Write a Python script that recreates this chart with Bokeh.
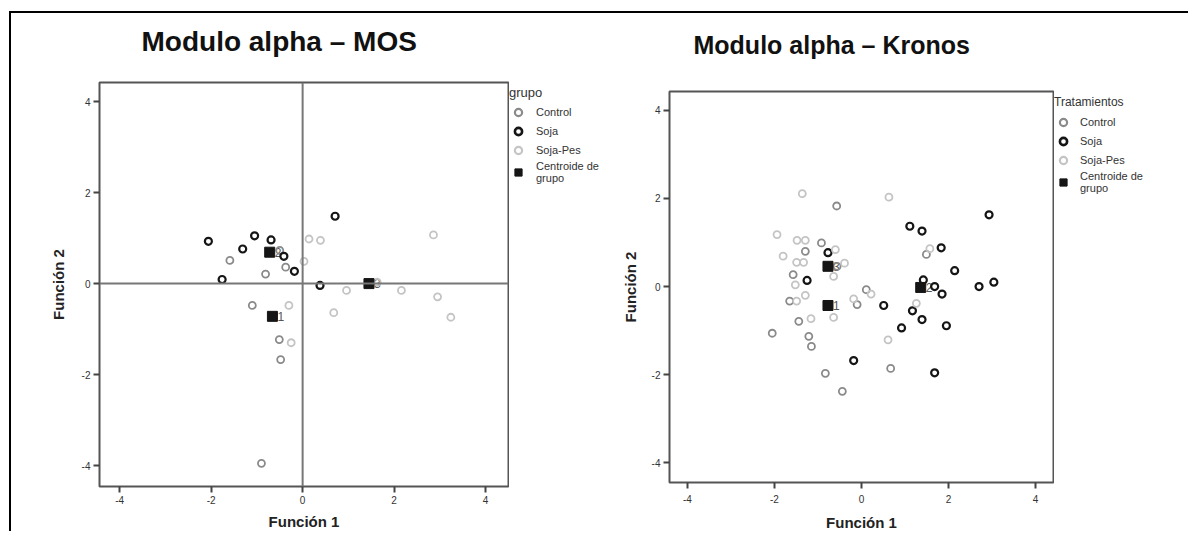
from bokeh.plotting import figure
from bokeh.models import Legend, LegendItem, Span, FixedTicker, Title
from bokeh.layouts import row, column
from bokeh.embed import file_html
from bokeh.resources import INLINE
from bokeh.core.properties import value

FONT = "Liberation Sans"

# ---------------- data ----------------
tick_values = [-4, -2, 0, 2, 4]
tick_labels = ["-4", "-2", "0", "2", "4"]
group_names = ["Control", "Soja", "Soja-Pes"]
centroid_name = "Centroide de\ngrupo"

# Modulo alpha - MOS
mos_control_x = [-1.59, -0.81, -0.37, -0.50, -1.10, -0.51, -0.48, -0.90]
mos_control_y = [0.51, 0.21, 0.36, 0.73, -0.48, -1.23, -1.67, -3.95]
mos_soja_x = [-2.06, -1.31, -1.05, -0.69, -0.41, -0.18, -1.76, 0.71, 0.38]
mos_soja_y = [0.93, 0.76, 1.05, 0.96, 0.60, 0.27, 0.09, 1.48, -0.04]
mos_sojapes_x = [0.03, 0.14, 0.39, 2.86, 1.63, 0.96, 2.16, 2.95, 3.24, -0.30, 0.68, -0.25]
mos_sojapes_y = [0.49, 0.98, 0.95, 1.07, 0.03, -0.15, -0.15, -0.29, -0.74, -0.48, -0.64, -1.30]
mos_centroid_x = [-0.66, -0.72, 1.45]
mos_centroid_y = [-0.72, 0.69, 0.00]
mos_centroid_labels = ["1", "2", "3"]

# Modulo alpha - Kronos
kro_control_x = [-0.57, -0.92, -1.29, 1.49, -0.56, -1.57, 0.11, -1.65, -0.10, -1.44,
                 -2.05, -1.21, -1.15, -0.83, 0.67, -0.44]
kro_control_y = [1.83, 0.99, 0.80, 0.73, 0.46, 0.27, -0.07, -0.33, -0.41, -0.79,
                 -1.06, -1.13, -1.36, -1.97, -1.86, -2.38]
kro_soja_x = [2.93, 1.11, 1.39, 1.83, -0.77, 2.14, -1.25, 1.42, 1.68, 1.85,
              2.70, 3.04, 0.51, 1.17, 1.39, 1.95, 0.92, -0.18, 1.68]
kro_soja_y = [1.63, 1.37, 1.26, 0.88, 0.77, 0.36, 0.14, 0.15, 0.00, -0.17,
              0.00, 0.10, -0.43, -0.55, -0.75, -0.89, -0.94, -1.68, -1.96]
kro_sojapes_x = [-1.36, 0.63, -1.94, -1.48, -1.29, -0.60, 1.57, -1.80, -1.49, -1.33,
                 -0.39, -0.64, -1.52, 0.22, -1.29, -1.49, -0.18, 1.26, -0.64, -1.16, 0.61]
kro_sojapes_y = [2.11, 2.03, 1.18, 1.05, 1.05, 0.84, 0.86, 0.69, 0.55, 0.55,
                 0.53, 0.23, 0.04, -0.17, -0.20, -0.33, -0.28, -0.38, -0.70, -0.73, -1.21]
kro_centroid_x = [-0.77, 1.36, -0.77]
kro_centroid_y = [-0.43, -0.02, 0.46]
kro_centroid_labels = ["1", "2", "3"]

# ---------------- style ----------------
group_colors = ["#8a8a8a", "#151515", "#c4c4c4"]
group_widths = [1.8, 2.2, 1.8]
FIG_H = 520


def make_panel(title, groups, cx, cy, clabels, width, xr, yr,
               bl, bt, bb, title_offset, title_size, spacer_size, zero_lines,
               x_lab_standoff, x_lab_gap, y_lab_gap):
    p = figure(width=width, height=FIG_H, output_backend="svg", toolbar_location=None,
               x_range=xr, y_range=yr,
               min_border_left=bl, min_border_right=1, min_border_top=bt, min_border_bottom=bb)
    # invisible spacer title next to the frame, real title above it
    p.add_layout(Title(text=" ", text_font=FONT, text_font_size=spacer_size, standoff=0,
                       text_color="white"), "above")
    p.add_layout(Title(text=title, text_font=FONT, text_font_size=title_size,
                       text_font_style="bold", text_color="#111111", align="left",
                       vertical_align="middle", offset=title_offset, standoff=0), "above")
    p.background_fill_color = "white"
    p.border_fill_color = "white"
    p.outline_line_color = "#555555"
    p.outline_line_width = 2
    p.xgrid.visible = False
    p.ygrid.visible = False
    overrides = {v: l for v, l in zip(tick_values, tick_labels)}
    for ax, lab in ((p.xaxis[0], "Función 1"), (p.yaxis[0], "Función 2")):
        ax.ticker = FixedTicker(ticks=tick_values)
        ax.major_label_overrides = overrides
        ax.axis_line_color = None
        ax.major_tick_line_color = "#444444"
        ax.major_tick_line_width = 2
        ax.major_tick_in = 0
        ax.major_tick_out = 6
        ax.minor_tick_line_color = None
        ax.major_label_text_font = FONT
        ax.major_label_text_font_size = "10px"
        ax.major_label_text_color = "#333333"
        ax.axis_label = lab
        ax.axis_label_text_font = FONT
        ax.axis_label_text_font_size = "15px"
        ax.axis_label_text_font_style = "bold"
        ax.axis_label_text_color = "#222222"
    p.xaxis[0].major_label_standoff = x_lab_standoff
    p.xaxis[0].axis_label_standoff = x_lab_gap
    p.yaxis[0].major_label_standoff = 3
    p.yaxis[0].axis_label_standoff = y_lab_gap
    p.yaxis[0].major_label_orientation = "horizontal"

    if zero_lines:
        p.add_layout(Span(location=0, dimension="width", line_color="#777777", line_width=2))
        p.add_layout(Span(location=0, dimension="height", line_color="#777777", line_width=2))

    # centroid numbers (drawn under the points)
    p.text(x=cx, y=cy, text=clabels, x_offset=5, text_align="left", text_baseline="middle",
           text_font=value(FONT), text_font_size="12px", text_color="#555555")

    for (gx, gy), col, lw in zip(groups, group_colors, group_widths):
        p.scatter(gx, gy, marker="circle", size=7, fill_color=None,
                  line_color=col, line_width=lw)
    p.scatter(cx, cy, marker="square", size=10, fill_color="#151515",
              line_color="#151515", line_width=1)
    return p


def make_legend(width, top, title, title_font, label_font, label_standoff, title_standoff,
                spacing, groups, cx, cy):
    # the legend lives in its own small plot; its data lie outside the visible range
    lf = figure(width=width, height=FIG_H, output_backend="svg", toolbar_location=None,
                x_range=(100, 101), y_range=(100, 101),
                x_axis_location=None, y_axis_location=None,
                min_border_left=0, min_border_right=0, min_border_top=top, min_border_bottom=0)
    lf.xgrid.visible = False
    lf.ygrid.visible = False
    lf.outline_line_color = None
    lf.background_fill_color = "white"
    lf.border_fill_color = "white"
    items = []
    for (gx, gy), name, col, lw in zip(groups, group_names, group_colors, group_widths):
        r = lf.scatter(gx, gy, marker="circle", size=7, fill_color=None,
                       line_color=col, line_width=lw + 0.4)
        items.append(LegendItem(label=name, renderers=[r]))
    rc = lf.scatter(cx, cy, marker="square", size=9, fill_color="#151515",
                    line_color="#151515", line_width=1)
    items.append(LegendItem(label=centroid_name, renderers=[rc]))
    leg = Legend(items=items, title=title, location="top_left",
                 border_line_color=None, background_fill_alpha=0,
                 label_text_font=FONT, label_text_font_size=label_font, label_text_color="#333333",
                 title_text_font=FONT, title_text_font_size=title_font,
                 title_text_font_style="normal", title_text_color="#333333",
                 glyph_height=18, glyph_width=18, spacing=spacing, padding=0, margin=0,
                 label_standoff=label_standoff, title_standoff=title_standoff,
                 label_height=14)
    lf.add_layout(leg)
    return lf


mos_groups = [(mos_control_x, mos_control_y), (mos_soja_x, mos_soja_y),
              (mos_sojapes_x, mos_sojapes_y)]
kro_groups = [(kro_control_x, kro_control_y), (kro_soja_x, kro_soja_y),
              (kro_sojapes_x, kro_sojapes_y)]

p1 = make_panel("Modulo alpha – MOS", mos_groups,
                mos_centroid_x, mos_centroid_y, mos_centroid_labels,
                width=498, xr=(-4.44, 4.5), yr=(-4.46, 4.42),
                bl=88, bt=69, bb=47, title_offset=42, title_size="28px",
                spacer_size="21px", zero_lines=True,
                x_lab_standoff=3, x_lab_gap=6, y_lab_gap=12)
l1 = make_legend(102, 72, "grupo", "13px", "11px", 9, 3, 1,
                 mos_groups, mos_centroid_x, mos_centroid_y)

p2 = make_panel("Modulo alpha – Kronos", kro_groups,
                kro_centroid_x, kro_centroid_y, kro_centroid_labels,
                width=443, xr=(-4.41, 4.41), yr=(-4.45, 4.43),
                bl=58, bt=78, bb=51, title_offset=24, title_size="25px",
                spacer_size="27px", zero_lines=False,
                x_lab_standoff=6, x_lab_gap=8, y_lab_gap=10)
l2 = make_legend(136, 82, "Tratamientos", "12px", "11px", 8, 4, 1,
                 kro_groups, kro_centroid_x, kro_centroid_y)

layout = row(column(p1), column(l1), column(p2), column(l2), margin=(13, 0, 0, 11),
             styles={"box-shadow": "-2px -2px 0 0 #000000"})

open("out.html", "w").write(file_html(layout, INLINE))
